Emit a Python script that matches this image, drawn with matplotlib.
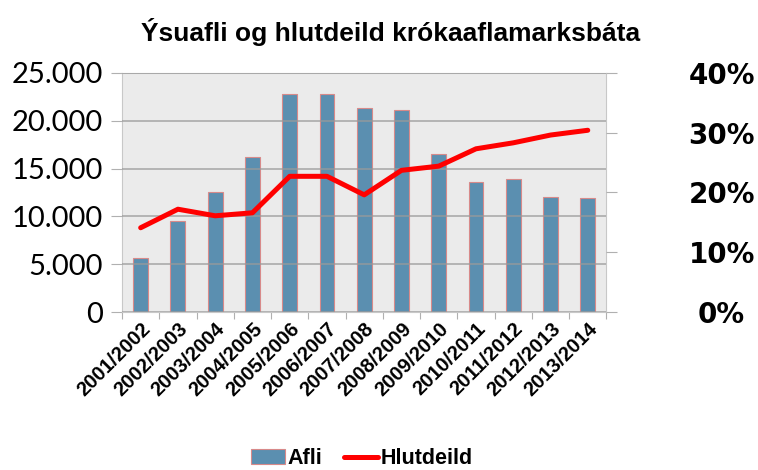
import numpy as np
import matplotlib.pyplot as plt
from matplotlib.ticker import FuncFormatter

# gogn lesin af myndinni
ar = ['2001/2002', '2002/2003', '2003/2004', '2004/2005', '2005/2006',
      '2006/2007', '2007/2008', '2008/2009', '2009/2010', '2010/2011',
      '2011/2012', '2012/2013', '2013/2014']
afli = [5700, 9500, 12600, 16200, 22800, 22800, 21300, 21100,
        16500, 13600, 13900, 12000, 11900]
hlutdeild = [14.1, 17.2, 16.1, 16.6, 22.7, 22.7, 19.6, 23.7,
             24.4, 27.3, 28.3, 29.6, 30.4]

feitt = 'Liberation Sans'

fig = plt.figure(figsize=(7.58, 4.70), dpi=100)
ax = fig.add_axes([0.161, 0.336, 0.639, 0.509])
ax2 = ax.twinx()

x = np.arange(len(ar))
ax.bar(x, afli, width=0.4, color='#5b8fb0', edgecolor='#d88a8a', linewidth=0.8,
       label='Afli', zorder=2)
ax.set_facecolor('#ebebeb')
ax.set_xlim(-0.5, len(ar) - 0.5)
ax.set_ylim(0, 25000)
ax.set_yticks(np.arange(0, 25001, 5000))
ax.yaxis.set_major_formatter(FuncFormatter(lambda v, p: f'{int(v):,}'.replace(',', '.')))
for v in range(0, 25001, 5000):
    ax.axhline(v, color='#9a9a9a', lw=1.2, alpha=0.8, zorder=3)

# flokkamork a x-as
ax.set_xticks(np.arange(-0.5, len(ar), 1.0))
ax.set_xticklabels([])
ax.set_xticks(x, minor=True)
ax.set_xticklabels(ar, minor=True, rotation=45, ha='right', rotation_mode='anchor',
                   fontsize=14.5, fontweight='bold', family=feitt)
ax.tick_params(axis='x', which='major', length=5, color='#b0b0b0')
ax.tick_params(axis='x', which='minor', length=0, pad=5)
ax.tick_params(axis='y', length=8, color='#b0b0b0', labelsize=21, pad=6)
for lbl in ax.get_yticklabels():
    lbl.set_family('Lato')

for s in ['top', 'left', 'right', 'bottom']:
    ax.spines[s].set_color('#c8c8c8')

ax2.plot(x, hlutdeild, color='#ff0000', lw=3.6, label='Hlutdeild',
         solid_capstyle='round', zorder=4)
ax2.set_ylim(0, 40)
ax2.set_yticks([0, 10, 20, 30, 40])
ax2.set_yticklabels(['0%', '10%', '20%', '30%', '40%'], fontsize=20,
                    fontweight='bold', family='DejaVu Sans', ha='center')
ax2.tick_params(axis='y', length=8, color='#b0b0b0', pad=75)
for s in ['top', 'left', 'right', 'bottom']:
    ax2.spines[s].set_visible(False)

fig.text(0.515, 1 - 32 / 470, 'Ýsuafli og hlutdeild krókaaflamarksbáta', fontsize=19,
         fontweight='bold', family=feitt, ha='center', va='center')

h1, l1 = ax.get_legend_handles_labels()
h2, l2 = ax2.get_legend_handles_labels()
fig.legend(h1 + h2, l1 + l2, loc='lower center', bbox_to_anchor=(0.477, -0.04),
           ncol=2, frameon=False, prop={'family': feitt, 'weight': 'bold', 'size': 15.5},
           handlelength=1.6, handletextpad=0.1, columnspacing=1.0)

fig.savefig('out.png', dpi=100)
